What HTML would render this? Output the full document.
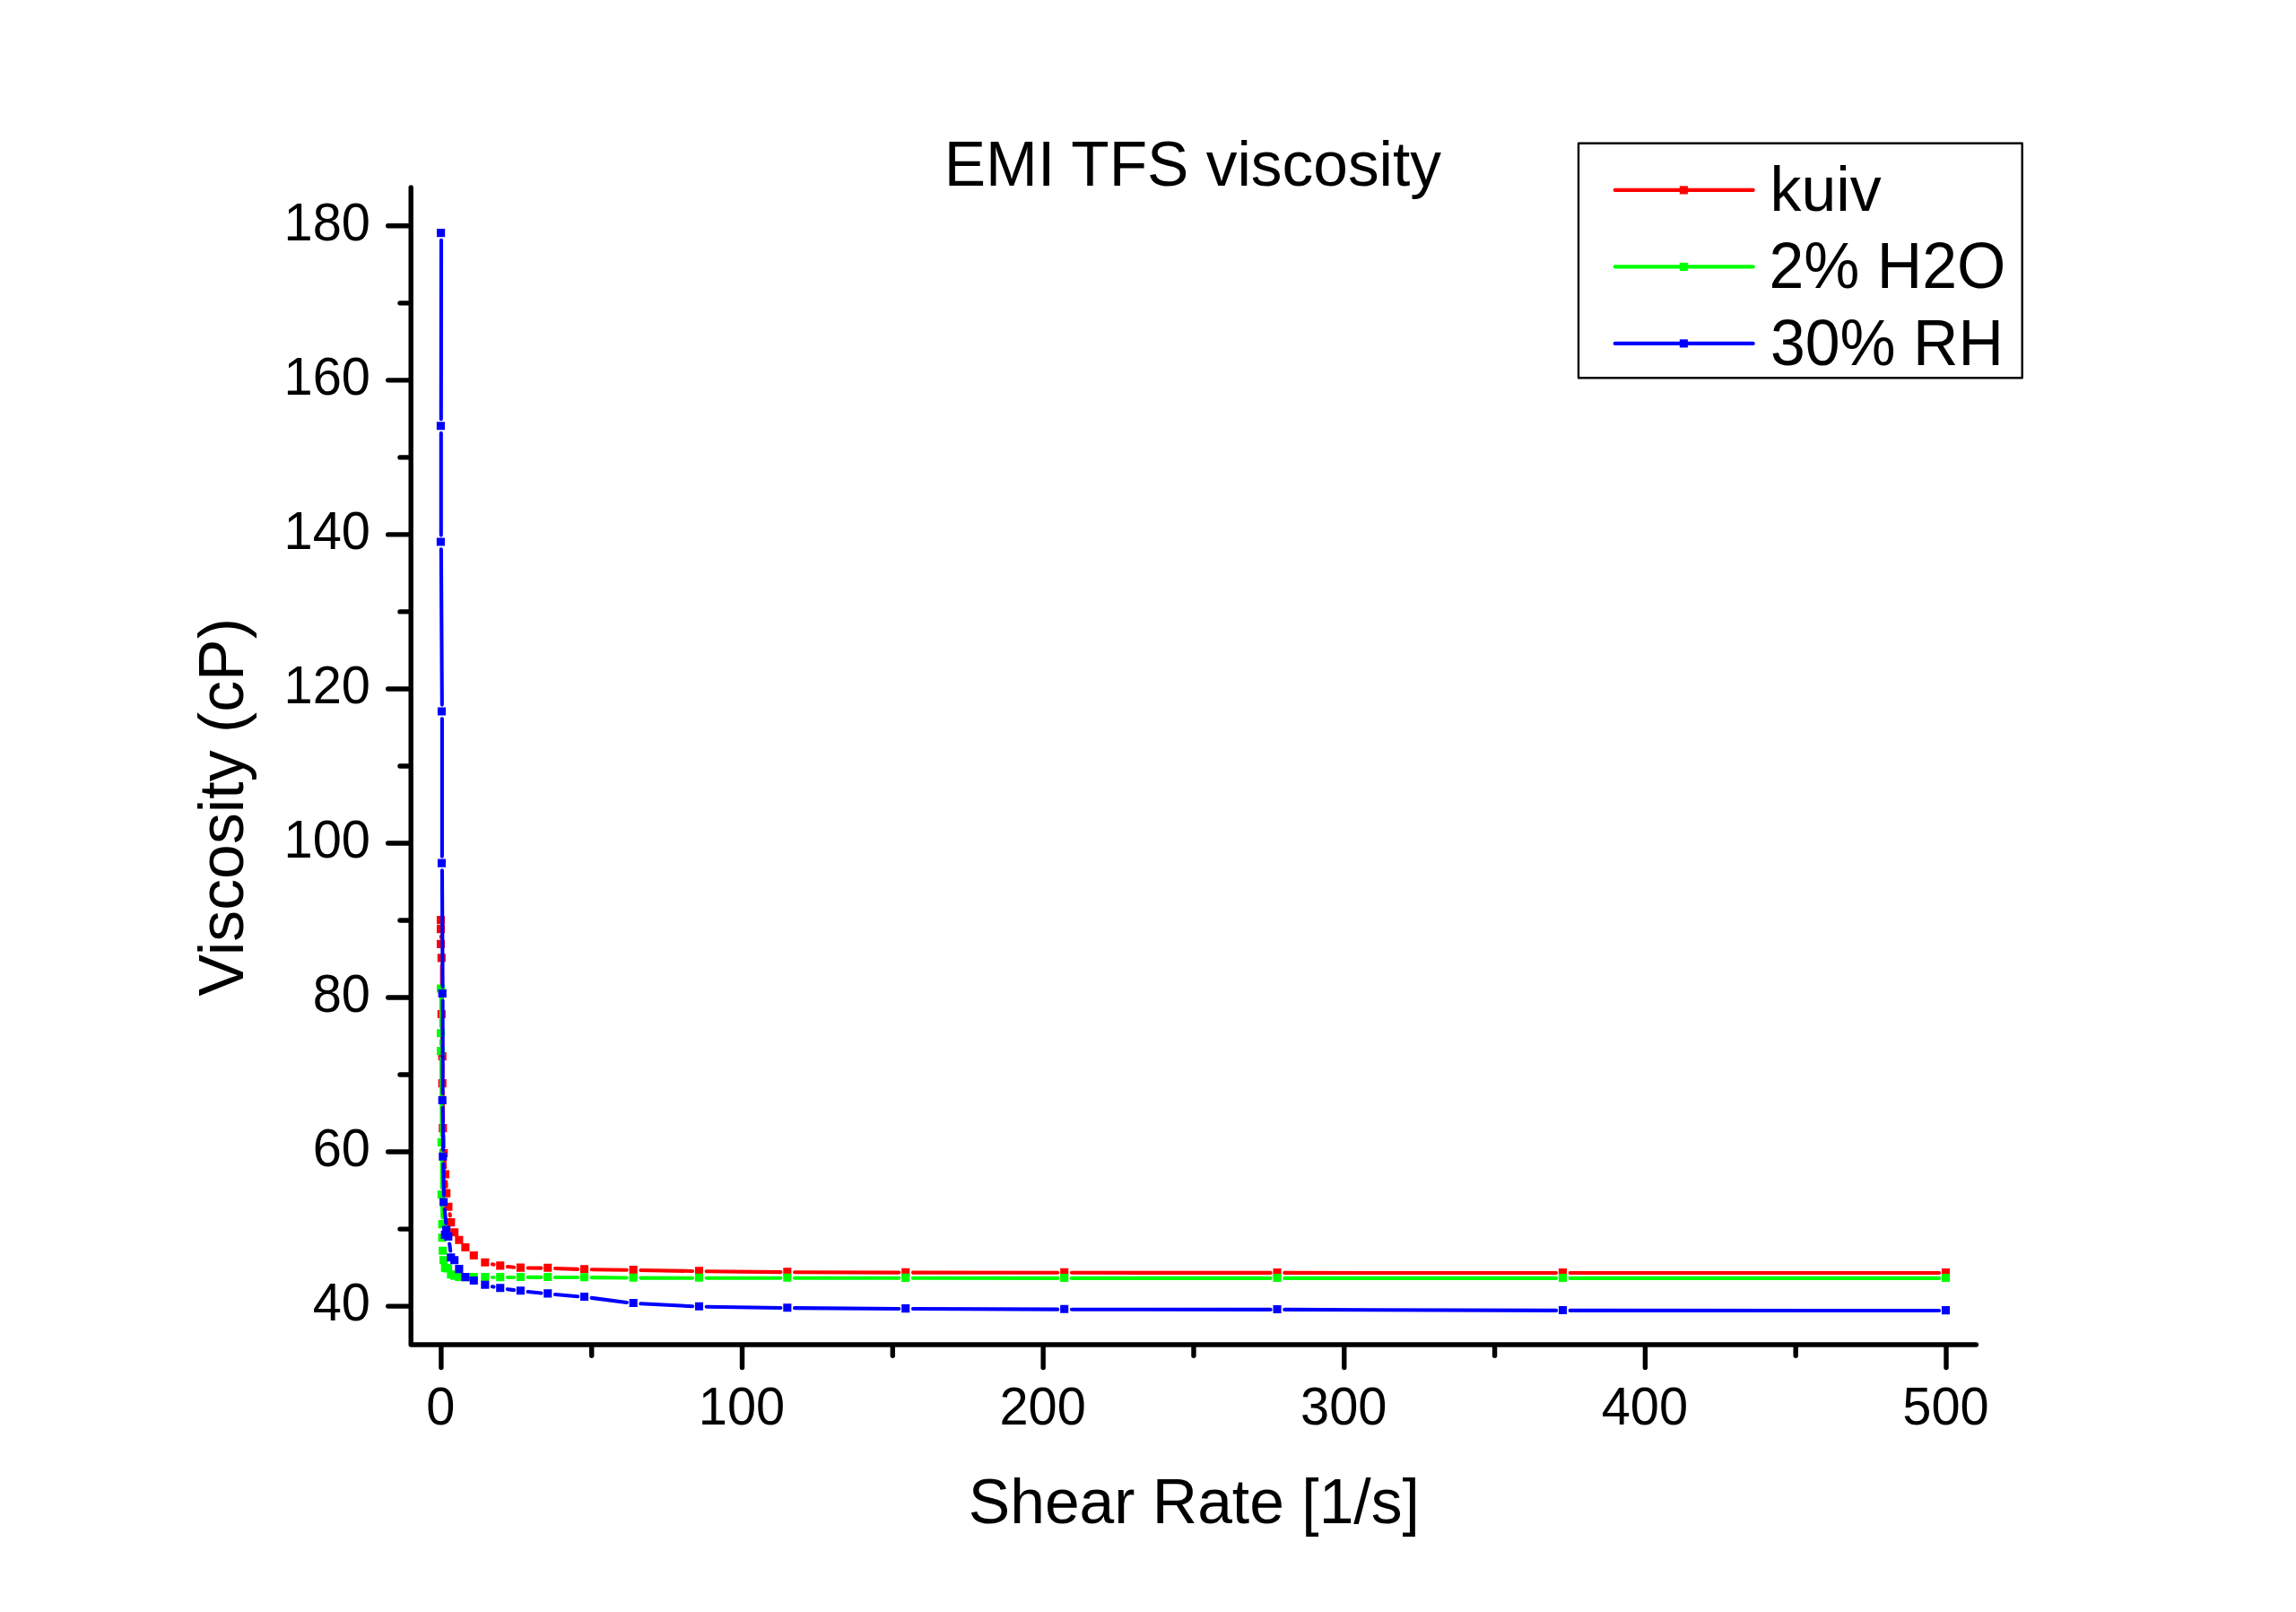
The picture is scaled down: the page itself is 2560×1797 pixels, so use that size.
<!DOCTYPE html>
<html><head><meta charset="utf-8"><title>EMI TFS viscosity</title>
<style>
html,body{margin:0;padding:0;background:#fff;}
body{width:2560px;height:1797px;position:relative;overflow:hidden;}
svg text{font-family:"Liberation Sans",Arial,Helvetica,sans-serif;fill:#000;}
</style></head><body>
<svg width="2560" height="1797" viewBox="0 0 2560 1797" style="position:absolute;left:0;top:0">
<path d="M491.90 1043.80L491.90 1045.00M492.70 1076.10L492.70 1123.10M492.85 1138.70L493.45 1170.20M493.60 1185.80L493.60 1200.20M493.69 1215.80L494.11 1250.20M494.45 1265.80L494.85 1278.10M495.66 1293.68L496.24 1301.62M497.28 1317.19L497.62 1322.71M501.58 1353.29L501.91 1355.31M548.88 1409.33L550.51 1409.67M565.90 1412.05L573.02 1412.75M588.58 1413.55L603.36 1413.65M618.96 1413.97L644.11 1414.83M659.71 1415.21L698.77 1415.79M714.36 1416.03L772.08 1416.97M787.68 1417.19L870.42 1418.11M886.02 1418.22L1002.34 1418.58M1017.94 1418.61L1179.29 1418.79M1194.89 1418.80L1416.65 1418.90M1432.25 1418.90L1735.03 1419.00M1750.63 1419.00L2162.10 1419.00" stroke="#ff0000" stroke-width="4.1" stroke-linecap="round" fill="none"/>
<path d="M486.95 1021.05h9.1v9.1h-9.1zM486.95 1031.05h9.1v9.1h-9.1zM486.95 1047.85h9.1v9.1h-9.1zM487.75 1063.35h9.1v9.1h-9.1zM487.75 1125.95h9.1v9.1h-9.1zM488.65 1173.05h9.1v9.1h-9.1zM488.65 1203.05h9.1v9.1h-9.1zM489.25 1253.05h9.1v9.1h-9.1zM490.15 1280.95h9.1v9.1h-9.1zM491.85 1304.45h9.1v9.1h-9.1zM493.15 1325.55h9.1v9.1h-9.1zM495.35 1340.65h9.1v9.1h-9.1zM498.24 1358.05h9.1v9.1h-9.1zM502.13 1369.15h9.1v9.1h-9.1zM507.34 1377.65h9.1v9.1h-9.1zM514.34 1385.95h9.1v9.1h-9.1zM523.72 1394.95h9.1v9.1h-9.1zM536.30 1402.75h9.1v9.1h-9.1zM553.19 1406.35h9.1v9.1h-9.1zM575.83 1408.55h9.1v9.1h-9.1zM606.21 1408.75h9.1v9.1h-9.1zM646.96 1410.15h9.1v9.1h-9.1zM701.61 1410.95h9.1v9.1h-9.1zM774.93 1412.15h9.1v9.1h-9.1zM873.27 1413.25h9.1v9.1h-9.1zM1005.19 1413.65h9.1v9.1h-9.1zM1182.14 1413.85h9.1v9.1h-9.1zM1419.50 1413.95h9.1v9.1h-9.1zM1737.88 1414.05h9.1v9.1h-9.1zM2164.95 1414.05h9.1v9.1h-9.1z" fill="#ff0000"/>
<path d="M491.90 1110.20L491.90 1144.30M491.90 1159.90L491.90 1164.20M491.96 1179.80L492.64 1266.00M492.70 1281.60L492.70 1324.10M492.89 1339.70L493.31 1357.20M549.05 1424.00L550.34 1424.00M565.94 1423.97L572.98 1423.93M588.58 1423.90L603.36 1423.90M618.96 1423.94L644.11 1424.06M659.71 1424.17L698.77 1424.53M714.36 1424.61L772.08 1424.69M787.68 1424.70L870.42 1424.70M886.02 1424.71L1002.34 1424.79M1017.94 1424.80L1179.29 1424.90M1194.89 1424.90L1416.65 1424.90M1432.25 1424.90L1735.03 1424.90M1750.63 1424.90L2162.10 1424.90" stroke="#00ff00" stroke-width="4.1" stroke-linecap="round" fill="none"/>
<path d="M486.95 1097.45h9.1v9.1h-9.1zM486.95 1147.15h9.1v9.1h-9.1zM486.95 1167.05h9.1v9.1h-9.1zM487.75 1268.85h9.1v9.1h-9.1zM487.75 1326.95h9.1v9.1h-9.1zM488.55 1360.05h9.1v9.1h-9.1zM488.55 1375.15h9.1v9.1h-9.1zM489.15 1389.65h9.1v9.1h-9.1zM489.95 1400.15h9.1v9.1h-9.1zM491.65 1408.75h9.1v9.1h-9.1zM493.15 1409.05h9.1v9.1h-9.1zM495.05 1409.45h9.1v9.1h-9.1zM498.35 1416.15h9.1v9.1h-9.1zM502.13 1417.75h9.1v9.1h-9.1zM507.34 1418.95h9.1v9.1h-9.1zM514.34 1419.05h9.1v9.1h-9.1zM523.72 1419.05h9.1v9.1h-9.1zM536.30 1419.05h9.1v9.1h-9.1zM553.19 1419.05h9.1v9.1h-9.1zM575.83 1418.95h9.1v9.1h-9.1zM606.21 1418.95h9.1v9.1h-9.1zM646.96 1419.15h9.1v9.1h-9.1zM701.61 1419.65h9.1v9.1h-9.1zM774.93 1419.75h9.1v9.1h-9.1zM873.27 1419.75h9.1v9.1h-9.1zM1005.19 1419.85h9.1v9.1h-9.1zM1182.14 1419.95h9.1v9.1h-9.1zM1419.50 1419.95h9.1v9.1h-9.1zM1737.88 1419.95h9.1v9.1h-9.1zM2164.95 1419.95h9.1v9.1h-9.1z" fill="#00ff00"/>
<path d="M491.99 267.80L491.81 467.30M491.80 482.90L491.80 596.60M491.85 612.20L492.85 785.60M492.90 801.20L492.90 954.70M492.94 970.30L493.56 1100.00M493.60 1115.60L493.60 1219.10M493.67 1234.70L494.13 1281.90M494.32 1297.50L494.88 1332.60M495.75 1348.16L497.25 1363.74M501.19 1386.54L502.20 1394.46M548.90 1434.24L550.49 1434.56M565.87 1437.16L573.06 1438.14M588.54 1439.99L603.40 1441.51M618.93 1442.99L644.14 1445.21M659.64 1446.89L698.83 1451.91M714.35 1453.29L772.09 1456.21M787.68 1456.72L870.43 1457.98M886.02 1458.15L1002.34 1458.95M1017.94 1459.03L1179.29 1459.67M1194.89 1459.71L1416.65 1459.89M1432.25 1459.92L1735.03 1460.88M1750.63 1460.90L2162.10 1461.00" stroke="#0000ff" stroke-width="4.1" stroke-linecap="round" fill="none"/>
<path d="M487.05 255.05h9.1v9.1h-9.1zM486.85 470.15h9.1v9.1h-9.1zM486.85 599.45h9.1v9.1h-9.1zM487.95 788.45h9.1v9.1h-9.1zM487.95 957.55h9.1v9.1h-9.1zM488.65 1102.85h9.1v9.1h-9.1zM488.65 1221.95h9.1v9.1h-9.1zM489.25 1284.75h9.1v9.1h-9.1zM490.05 1335.45h9.1v9.1h-9.1zM493.05 1366.55h9.1v9.1h-9.1zM491.65 1371.85h9.1v9.1h-9.1zM495.25 1373.85h9.1v9.1h-9.1zM498.24 1397.25h9.1v9.1h-9.1zM502.13 1400.15h9.1v9.1h-9.1zM507.34 1410.05h9.1v9.1h-9.1zM514.34 1419.05h9.1v9.1h-9.1zM523.72 1422.95h9.1v9.1h-9.1zM536.30 1427.75h9.1v9.1h-9.1zM553.19 1431.15h9.1v9.1h-9.1zM575.83 1434.25h9.1v9.1h-9.1zM606.21 1437.35h9.1v9.1h-9.1zM646.96 1440.95h9.1v9.1h-9.1zM701.61 1447.95h9.1v9.1h-9.1zM774.93 1451.65h9.1v9.1h-9.1zM873.27 1453.15h9.1v9.1h-9.1zM1005.19 1454.05h9.1v9.1h-9.1zM1182.14 1454.75h9.1v9.1h-9.1zM1419.50 1454.95h9.1v9.1h-9.1zM1737.88 1455.95h9.1v9.1h-9.1zM2164.95 1456.05h9.1v9.1h-9.1z" fill="#0000ff"/>
<path d="M458.2 208.9V1499.0H2203.4M458.2 1456.10h-25.5M458.2 1284.06h-25.5M458.2 1112.02h-25.5M458.2 939.98h-25.5M458.2 767.94h-25.5M458.2 595.90h-25.5M458.2 423.86h-25.5M458.2 251.82h-25.5M458.2 1370.08h-12.2M458.2 1198.04h-12.2M458.2 1026.00h-12.2M458.2 853.96h-12.2M458.2 681.92h-12.2M458.2 509.88h-12.2M458.2 337.84h-12.2M491.90 1499.0v25.5M827.52 1499.0v25.5M1163.14 1499.0v25.5M1498.76 1499.0v25.5M1834.38 1499.0v25.5M2170.00 1499.0v25.5M659.71 1499.0v12.2M995.33 1499.0v12.2M1330.95 1499.0v12.2M1666.57 1499.0v12.2M2002.19 1499.0v12.2" stroke="#000" stroke-width="5.4" stroke-linecap="round" stroke-linejoin="round" fill="none"/>
<text transform="translate(413.00 1472.40) scale(1 1.035)" font-size="57.8" text-anchor="end">40</text>
<text transform="translate(413.00 1300.36) scale(1 1.035)" font-size="57.8" text-anchor="end">60</text>
<text transform="translate(413.00 1128.32) scale(1 1.035)" font-size="57.8" text-anchor="end">80</text>
<text transform="translate(413.00 956.28) scale(1 1.035)" font-size="57.8" text-anchor="end">100</text>
<text transform="translate(413.00 784.24) scale(1 1.035)" font-size="57.8" text-anchor="end">120</text>
<text transform="translate(413.00 612.20) scale(1 1.035)" font-size="57.8" text-anchor="end">140</text>
<text transform="translate(413.00 440.16) scale(1 1.035)" font-size="57.8" text-anchor="end">160</text>
<text transform="translate(413.00 268.12) scale(1 1.035)" font-size="57.8" text-anchor="end">180</text>
<text transform="translate(491.40 1587.70) scale(1 1.035)" font-size="57.8" text-anchor="middle">0</text>
<text transform="translate(827.02 1587.70) scale(1 1.035)" font-size="57.8" text-anchor="middle">100</text>
<text transform="translate(1162.64 1587.70) scale(1 1.035)" font-size="57.8" text-anchor="middle">200</text>
<text transform="translate(1498.26 1587.70) scale(1 1.035)" font-size="57.8" text-anchor="middle">300</text>
<text transform="translate(1833.88 1587.70) scale(1 1.035)" font-size="57.8" text-anchor="middle">400</text>
<text transform="translate(2169.50 1587.70) scale(1 1.035)" font-size="57.8" text-anchor="middle">500</text>
<text transform="translate(1331.30 1697.70) scale(0.9976 1.015)" font-size="69.8" text-anchor="middle">Shear Rate [1/s]</text>
<text transform="translate(1329.90 206.60) scale(0.995 1.02)" font-size="69.8" text-anchor="middle">EMI TFS viscosity</text>
<text transform="translate(271.40 899.80) rotate(-90) scale(1 1.015)" font-size="69.8" text-anchor="middle">Viscosity (cP)</text>
<rect x="1760.0" y="159.8" width="494.7" height="261.5" fill="#fff" stroke="#000" stroke-width="2.4" stroke-linejoin="round"/>
<path d="M1800.7 211.9H1954.7" stroke="#ff0000" stroke-width="4.1" stroke-linecap="round"/>
<rect x="1872.80" y="207.35" width="9.1" height="9.1" fill="#ff0000"/>
<text transform="translate(1973.50 235.30)" font-size="69.8" text-anchor="start">kuiv</text>
<path d="M1800.7 297.4H1954.7" stroke="#00ff00" stroke-width="4.1" stroke-linecap="round"/>
<rect x="1872.80" y="292.85" width="9.1" height="9.1" fill="#00ff00"/>
<text transform="translate(1972.50 321.05) scale(1 1.04)" font-size="69.8" text-anchor="start">2% H2O</text>
<path d="M1800.7 382.9H1954.7" stroke="#0000ff" stroke-width="4.1" stroke-linecap="round"/>
<rect x="1872.80" y="378.35" width="9.1" height="9.1" fill="#0000ff"/>
<text transform="translate(1974.00 406.80) scale(1 1.04)" font-size="69.8" text-anchor="start">30% RH</text>
</svg>
</body></html>
